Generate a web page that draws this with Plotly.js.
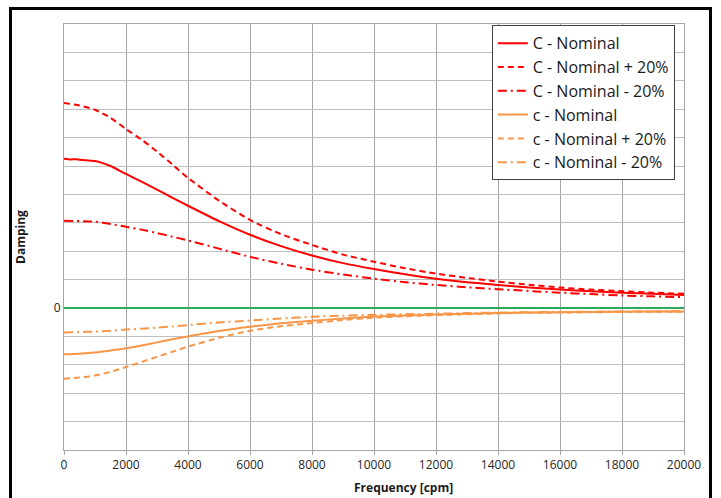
<!DOCTYPE html>
<html>
<head>
<meta charset="utf-8">
<script src="https://cdn.plot.ly/plotly-3.0.1.min.js"></script>
<style>
  html, body { margin: 0; padding: 0; background: #fff; overflow: hidden; }
  #chart { width: 721px; height: 498px; }
  #frame { position: absolute; left: 9px; top: 7px; width: 697px; height: 600px;
           border: 3px solid #000; pointer-events: none; }
</style>
</head>
<body>
<div id="chart"></div>
<div id="frame"></div>
<script>
// ---- data ----
const freqCNom = [0, 200, 400, 600, 800, 1000, 1200, 1500, 2000, 2500, 3000, 3500, 4000, 5000, 6000, 7000, 8000, 9000, 10000, 11000, 12000, 13000, 14000, 15000, 16000, 17000, 18000, 19000, 20000];
const cNominal = [5.26, 5.23, 5.24, 5.21, 5.19, 5.18, 5.12, 5.0, 4.72, 4.45, 4.17, 3.88, 3.6, 3.06, 2.58, 2.18, 1.85, 1.58, 1.37, 1.19, 1.03, 0.91, 0.81, 0.72, 0.65, 0.59, 0.54, 0.5, 0.46];

const freq = [0, 500, 1000, 1500, 2000, 2500, 3000, 3500, 4000, 5000, 6000, 7000, 8000, 9000, 10000, 11000, 12000, 13000, 14000, 15000, 16000, 17000, 18000, 19000, 20000];
const cNominalPlus20  = [7.22, 7.13, 6.98, 6.7, 6.3, 5.93, 5.51, 5.05, 4.58, 3.78, 3.1, 2.6, 2.22, 1.88, 1.63, 1.4, 1.21, 1.06, 0.93, 0.82, 0.72, 0.65, 0.59, 0.54, 0.5];
const cNominalMinus20 = [3.07, 3.06, 3.04, 2.96, 2.86, 2.76, 2.64, 2.51, 2.38, 2.09, 1.8, 1.56, 1.35, 1.18, 1.03, 0.91, 0.81, 0.73, 0.66, 0.6, 0.54, 0.49, 0.44, 0.41, 0.38];

const lcNominal        = [-1.63, -1.61, -1.57, -1.5, -1.42, -1.32, -1.21, -1.1, -1.0, -0.81, -0.66, -0.54, -0.45, -0.37, -0.3, -0.26, -0.23, -0.2, -0.18, -0.16, -0.15, -0.14, -0.13, -0.12, -0.12];
const lcNominalPlus20  = [-2.49, -2.45, -2.38, -2.25, -2.08, -1.9, -1.72, -1.54, -1.36, -1.05, -0.8, -0.64, -0.53, -0.42, -0.34, -0.29, -0.25, -0.22, -0.19, -0.17, -0.16, -0.15, -0.14, -0.13, -0.13];
const lcNominalMinus20 = [-0.86, -0.85, -0.83, -0.8, -0.76, -0.73, -0.69, -0.65, -0.6, -0.51, -0.44, -0.37, -0.31, -0.27, -0.24, -0.22, -0.2, -0.18, -0.16, -0.15, -0.14, -0.13, -0.12, -0.12, -0.11];

const seriesNames = ['C - Nominal', 'C - Nominal + 20%', 'C - Nominal - 20%', 'c - Nominal', 'c - Nominal + 20%', 'c - Nominal - 20%'];

const yTickVals = [-5, -4, -3, -2, -1, 0, 1, 2, 3, 4, 5, 6, 7, 8, 9, 10];
const yTickText = yTickVals.map(v => v === 0 ? '0' : '');
const xTickVals = [0, 2000, 4000, 6000, 8000, 10000, 12000, 14000, 16000, 18000, 20000];
const xTickText = xTickVals.map(String);

// ---- styling ----
const RED = '#ff0000';
const ORANGE = '#f79646';
const DASH = '6px,4px';
const DASHDOT = '9px,4px,2px,4px';

function tr(x, y, name, color, dash, i) {
  return {
    x: x, y: y, name: name, type: 'scatter', mode: 'lines',
    line: { color: color, width: 2, dash: dash, shape: 'spline', smoothing: 0.6 },
    legendgroup: 'g' + i, hoverinfo: 'skip'
  };
}

const data = [
  tr(freqCNom, cNominal, seriesNames[0], RED, 'solid', 0),
  tr(freq, cNominalPlus20, seriesNames[1], RED, DASH, 1),
  tr(freq, cNominalMinus20, seriesNames[2], RED, DASHDOT, 2),
  tr(freq, lcNominal, seriesNames[3], ORANGE, 'solid', 3),
  tr(freq, lcNominalPlus20, seriesNames[4], ORANGE, DASH, 4),
  tr(freq, lcNominalMinus20, seriesNames[5], ORANGE, DASHDOT, 5)
];

const FONT = '"Open Sans", "Liberation Sans", sans-serif';

const layout = {
  width: 721, height: 498,
  margin: { l: 64, r: 37, t: 24, b: 48 },
  paper_bgcolor: '#ffffff', plot_bgcolor: '#ffffff',
  font: { family: FONT, size: 12, color: '#262626' },
  showlegend: true,
  legend: {
    x: 0.690, y: 0.997, xanchor: 'left', yanchor: 'top',
    bgcolor: '#ffffff', bordercolor: '#404040', borderwidth: 1,
    font: { family: FONT, size: 16, color: '#1a1a1a' },
    traceorder: 'grouped', tracegroupgap: 0
  },
  xaxis: {
    range: [0, 20000], tickvals: xTickVals, ticktext: xTickText,
    showgrid: true, gridcolor: '#a6a6a6', gridwidth: 1,
    zeroline: false, showline: true, linecolor: '#a6a6a6', linewidth: 1, mirror: true,
    ticks: 'outside', ticklen: 4, tickcolor: '#a6a6a6',
    tickfont: { family: FONT, size: 12, color: '#262626' }, fixedrange: true
  },
  yaxis: {
    range: [-5, 10], tickvals: yTickVals, ticktext: yTickText,
    showgrid: true, gridcolor: '#bfbfbf', gridwidth: 1,
    zeroline: true, zerolinecolor: '#2ea85a', zerolinewidth: 2,
    showline: true, linecolor: '#a6a6a6', linewidth: 1, mirror: true,
    ticks: '', tickfont: { family: FONT, size: 12, color: '#262626' }, fixedrange: true
  },
  annotations: [
    { text: '<b>Frequency [cpm]</b>', xref: 'paper', yref: 'paper', x: 0.548, y: 0,
      yshift: -37, xanchor: 'center', yanchor: 'middle', showarrow: false,
      font: { family: FONT, size: 12, color: '#1a1a1a' } },
    { text: '<b>Damping</b>', xref: 'paper', yref: 'paper', x: -0.071, y: 0.5,
      xanchor: 'center', yanchor: 'middle', textangle: -90, showarrow: false,
      font: { family: FONT, size: 12, color: '#1a1a1a' } }
  ]
};

Plotly.newPlot('chart', data, layout, { staticPlot: true, displayModeBar: false });
</script>
</body>
</html>
